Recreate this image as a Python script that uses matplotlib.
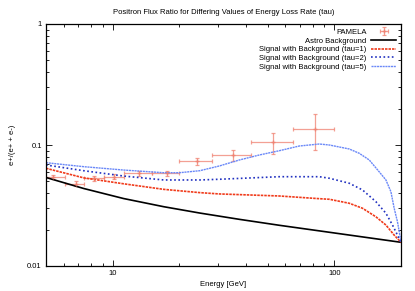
import matplotlib
matplotlib.use("Agg")
import matplotlib.pyplot as plt
from matplotlib.ticker import LogLocator, NullFormatter, FixedLocator, FixedFormatter

plt.rcParams['font.family'] = ['Liberation Sans', 'DejaVu Sans']

# PAMELA data
pam_E = [5.4, 6.8, 8.2, 10.1, 13.1, 17.5, 24.0, 34.8, 53.0, 82.0]
pam_lo = [5.0, 6.1, 7.4, 9.1, 11.2, 15.0, 20.0, 28.0, 42.0, 65.0]
pam_hi = [6.1, 7.4, 9.1, 11.2, 15.0, 20.0, 28.0, 42.0, 65.0, 100.0]
pam_y = [0.054, 0.048, 0.0531, 0.0547, 0.0583, 0.0583, 0.0738, 0.0827, 0.105, 0.1356]
pam_err = [0.002, 0.002, 0.0025, 0.0025, 0.003, 0.003, 0.005, 0.009, 0.021, 0.045]

# Astro background
bg_E = [5.0, 7.4, 11.2, 17.0, 24.7, 37.3, 56.5, 95.0, 200.0]
bg_y = [0.0539, 0.0437, 0.0361, 0.0309, 0.0274, 0.0243, 0.0217, 0.0190, 0.0157]

# Signal with background tau=1
t1_E = [5.0, 7.4, 11.2, 17.0, 24.7, 30.3, 56.5, 85.6, 95.0, 116.8, 134.1, 154.1, 171.0, 186.3, 200.0]
t1_y = [0.0642, 0.0535, 0.0478, 0.0430, 0.0404, 0.0394, 0.0379, 0.0360, 0.0356, 0.0330, 0.0300, 0.0255, 0.0218, 0.0180, 0.0157]

# tau=2
t2_E = [5.0, 7.4, 11.2, 17.0, 24.7, 30.3, 56.5, 85.6, 95.0, 116.8, 134.1, 154.1, 171.0, 183.1, 192.8, 200.0]
t2_y = [0.0684, 0.0613, 0.0554, 0.0514, 0.0514, 0.0521, 0.0547, 0.0547, 0.0531, 0.0483, 0.0425, 0.0340, 0.0273, 0.0218, 0.0180, 0.0157]

# tau=5
t5_E = [5.0, 7.4, 11.2, 17.0, 20.0, 24.7, 30.3, 37.3, 45.9, 56.5, 69.5, 85.6, 95.0, 116.8,
        129.6, 143.8, 159.5, 171.0, 180.1, 186.3, 192.8, 200.0]
t5_y = [0.0714, 0.0662, 0.0621, 0.0590, 0.0590, 0.0613, 0.0671, 0.0752, 0.0827, 0.0897, 0.0981, 0.1019, 0.100, 0.0927,
        0.0854, 0.0752, 0.0600, 0.0514, 0.0411, 0.0300, 0.0232, 0.0159]

fig = plt.figure(figsize=(4.15, 2.91), dpi=100)
ax = fig.add_axes([46/415, 1-266/291, (401-46)/415, (266-24)/291])

xerr = [[e - l for e, l in zip(pam_E, pam_lo)], [h - e for e, h in zip(pam_E, pam_hi)]]
ax.errorbar(pam_E, pam_y, xerr=xerr, yerr=pam_err, fmt='+', color='#f08070', ms=2.5,
            elinewidth=0.9, capsize=1.5, capthick=0.9, alpha=0.75, label='PAMELA')
ax.plot(bg_E, bg_y, color='black', lw=1.2, label='Astro Background')
ax.plot(t1_E, t1_y, color='#f03a1a', lw=1.2, ls=(0, (1.5, 0.6)), label='Signal with Background (tau=1)')
ax.plot(t2_E, t2_y, color='#2030c0', lw=1.2, ls=(0, (1, 1.5)), label='Signal with Background (tau=2)')
ax.plot(t5_E, t5_y, color='#6a88f8', lw=1.0, ls=(0, (1.5, 0.5)), label='Signal with Background (tau=5)')

ax.set_xscale('log')
ax.set_yscale('log')
ax.set_xlim(5, 200)
ax.set_ylim(0.01, 1)

ax.xaxis.set_major_locator(FixedLocator([10, 100]))
ax.xaxis.set_major_formatter(FixedFormatter(['10', '100']))
ax.xaxis.set_minor_locator(LogLocator(base=10, subs=range(2, 10)))
ax.xaxis.set_minor_formatter(NullFormatter())
ax.yaxis.set_major_locator(FixedLocator([0.01, 0.1, 1]))
ax.yaxis.set_major_formatter(FixedFormatter(['0.01', '0.1', '1']))
ax.yaxis.set_minor_locator(LogLocator(base=10, subs=range(2, 10)))
ax.yaxis.set_minor_formatter(NullFormatter())

ax.tick_params(which='both', direction='in', top=True, right=True, labelsize=5.5, width=0.6, pad=3)
ax.tick_params(which='major', length=4)
ax.tick_params(which='minor', length=2)
for s in ax.spines.values():
    s.set_linewidth(0.9)

ax.set_title('Positron Flux Ratio for Differing Values of Energy Loss Rate (tau)', fontsize=5.5, pad=7)
ax.set_xlabel('Energy [GeV]', fontsize=5.5, labelpad=3)
ax.set_ylabel('e+/(e+ + e-)', fontsize=5.5, labelpad=8)

handles, labels = ax.get_legend_handles_labels()
order = [labels.index('PAMELA')] + [i for i, l in enumerate(labels) if l != 'PAMELA']
leg = ax.legend([handles[i] for i in order], [labels[i] for i in order],
                loc='upper right', frameon=False, markerfirst=False, fontsize=5.5,
                handlelength=3.3, labelspacing=0.18, handletextpad=0.6,
                borderaxespad=0.3, borderpad=0.3)

fig.savefig('out.png', dpi=100)
